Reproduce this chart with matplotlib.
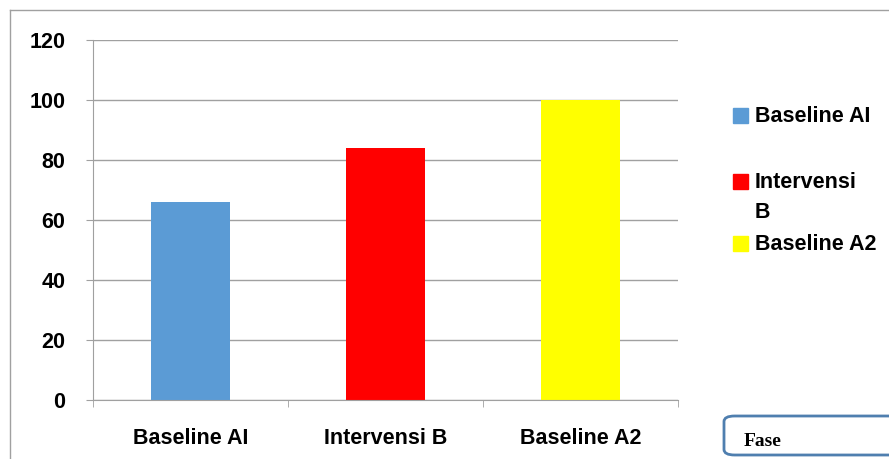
import matplotlib
matplotlib.use("Agg")
import matplotlib.pyplot as plt
from matplotlib.lines import Line2D
from matplotlib.patches import Rectangle, FancyBboxPatch

# ── Data ─────────────────────────────────────────────────────────────────────
categories = ["Baseline AI", "Intervensi B", "Baseline A2"]
values = [66, 84, 100]
legend_labels = [["Baseline AI"], ["Intervensi", "B"], ["Baseline A2"]]
colors = ["#5B9BD5", "#FF0000", "#FFFF00"]
yticks = [0, 20, 40, 60, 80, 100, 120]

W, H = 889, 459
fig = plt.figure(figsize=(W / 100, H / 100), dpi=100)
ax = fig.add_axes([93 / W, 1 - 400 / H, (678 - 93) / W, (400 - 40) / H])

FONT = "Liberation Sans"
FS = 15.5
x = range(len(categories))
ax.bar(x, values, width=0.405, color=colors, zorder=2)
ax.set_xlim(-0.5, len(categories) - 0.5)
ax.set_ylim(0, 120)
ax.set_yticks(yticks)
ax.set_yticklabels([str(t) for t in yticks], fontsize=FS, fontweight="bold", family=FONT)
ax.set_xticks(list(x))
ax.set_xticklabels(categories, fontsize=FS, fontweight="bold", family=FONT)
ax.set_xticks([i - 0.5 for i in range(len(categories) + 1)], minor=True)
ax.tick_params(axis="x", which="major", length=0, pad=20)
ax.tick_params(axis="x", which="minor", length=5, color="#A0A0A0", direction="out")
ax.tick_params(axis="y", length=5, color="#A0A0A0", pad=15)
ax.grid(axis="y", color="#A0A0A0", linewidth=1, zorder=0)
for s in ["top", "right"]:
    ax.spines[s].set_visible(False)
for s in ["left", "bottom"]:
    ax.spines[s].set_color("#A0A0A0")

# outer frame
fig.add_artist(Line2D([10 / W, 1], [1 - 10 / H, 1 - 10 / H], color="#A0A0A0", lw=1))
fig.add_artist(Line2D([10 / W, 10 / W], [0, 1 - 10 / H], color="#A0A0A0", lw=1))

# legend
ys = [116, 182, 244]
for lines, c, yy in zip(legend_labels, colors, ys):
    fig.add_artist(Rectangle((733 / W, 1 - (yy + 7) / H), 15 / W, 15 / H, color=c))
    for k, line in enumerate(lines):
        fig.text(755 / W, 1 - (yy + 31 * k) / H, line, fontsize=FS, fontweight="bold",
                 family=FONT, va="center", ha="left")

# "Fase" box
box = FancyBboxPatch((724 / W, 1 - 455 / H), 200 / W, 39 / H,
                     boxstyle="round,pad=0,rounding_size=0.012",
                     transform=fig.transFigure, fc="white", ec="#4F7FAF", lw=2)
fig.add_artist(box)
fig.text(744 / W, 1 - 442 / H, "Fase", fontsize=14, fontweight="bold",
         family="Liberation Serif", va="center", ha="left")

fig.savefig("out.png", dpi=100)
